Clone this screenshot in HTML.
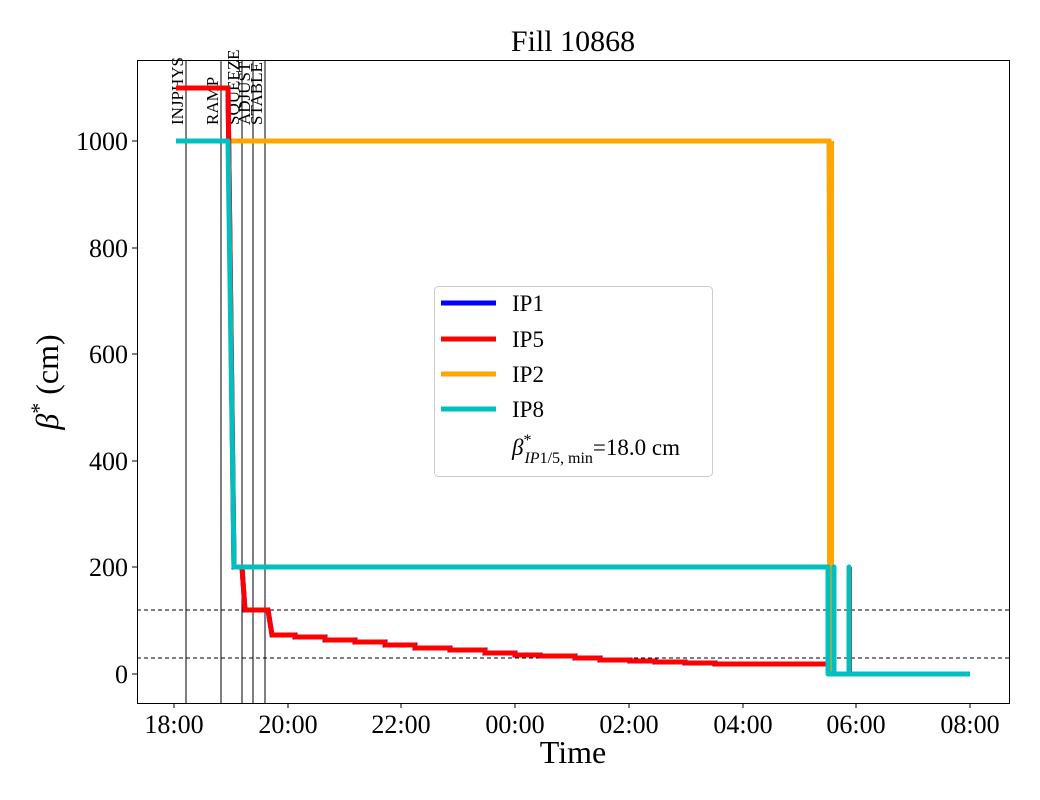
<!DOCTYPE html>
<html><head><meta charset="utf-8"><style>body{margin:0;background:#fff}svg{display:block}</style></head><body>
<svg width="1040" height="800" xmlns="http://www.w3.org/2000/svg" font-family="Liberation Serif, serif">
<rect width="1040" height="800" fill="#fff"/>
<text x="573" y="51" font-size="30" text-anchor="middle">Fill 10868</text>
<g stroke="#000" stroke-width="1">
<line x1="186" y1="60" x2="186" y2="703"/><line x1="221" y1="60" x2="221" y2="703"/><line x1="242" y1="60" x2="242" y2="703"/><line x1="253" y1="60" x2="253" y2="703"/><line x1="265" y1="60" x2="265" y2="703"/>
<line x1="137" y1="610" x2="1010" y2="610" stroke-dasharray="4,3"/><line x1="137" y1="658" x2="1010" y2="658" stroke-dasharray="4,3"/>
</g>
<g font-size="17" fill="#000">
<text transform="translate(183,125) rotate(-90)">INJPHYS</text>
<text transform="translate(218,125) rotate(-90)">RAMP</text>
<text transform="translate(239,125) rotate(-90)">SQUEEZE</text>
<text transform="translate(250,125) rotate(-90)">ADJUST</text>
<text transform="translate(262,125) rotate(-90)">STABLE</text>
</g>
<polyline fill="none" stroke="#FFA500" stroke-width="5" points="228,141 829,141 831,674"/>
<rect x="827" y="141" width="7" height="533" fill="#FFA500"/>
<polyline fill="none" stroke="#0000ff" stroke-width="5" points="176,88 228,88 234,567 242,567 245,610 268,610 272,635 295,635 295,637 325,637 325,640 355,640 355,642 385,642 385,645 415,645 415,648 450,648 450,650 485,650 485,653 515,653 515,655 540,655 540,656 575,656 575,658 600,658 600,660 630,660 630,661 655,661 655,662 685,662 685,663 715,663 715,664 826,664"/>
<polyline fill="none" stroke="#ff0000" stroke-width="5" stroke-linejoin="round" points="176,88 228,88 234,567 242,567 245,610 268,610 272,635 295,635 295,637 325,637 325,640 355,640 355,642 385,642 385,645 415,645 415,648 450,648 450,650 485,650 485,653 515,653 515,655 540,655 540,656 575,656 575,658 600,658 600,660 630,660 630,661 655,661 655,662 685,662 685,663 715,663 715,664 826,664"/>
<polyline fill="none" stroke="#ff0000" stroke-width="2" points="851,567 851,674"/>
<polyline fill="none" stroke="#00BFBF" stroke-width="5" stroke-linejoin="round" points="176,141 228,141 234,567 828,567 828,674 834,674 834,567 834,674 849,674 849,567 849,674 970,674"/>
<rect x="137.5" y="60.5" width="872" height="643" fill="none" stroke="#000"/>
<g stroke="#000"><line x1="132" y1="674" x2="137" y2="674"/><line x1="132" y1="567" x2="137" y2="567"/><line x1="132" y1="461" x2="137" y2="461"/><line x1="132" y1="354" x2="137" y2="354"/><line x1="132" y1="248" x2="137" y2="248"/><line x1="132" y1="141" x2="137" y2="141"/>
<line x1="174" y1="703" x2="174" y2="708"/><line x1="288" y1="703" x2="288" y2="708"/><line x1="401" y1="703" x2="401" y2="708"/><line x1="515" y1="703" x2="515" y2="708"/><line x1="629" y1="703" x2="629" y2="708"/><line x1="743" y1="703" x2="743" y2="708"/><line x1="856" y1="703" x2="856" y2="708"/><line x1="970" y1="703" x2="970" y2="708"/></g>
<g font-size="26" text-anchor="end"><text x="128" y="683">0</text><text x="128" y="576">200</text><text x="128" y="470">400</text><text x="128" y="363">600</text><text x="128" y="257">800</text><text x="128" y="150">1000</text></g>
<g font-size="26" text-anchor="middle"><text x="174" y="733">18:00</text><text x="288" y="733">20:00</text><text x="401" y="733">22:00</text><text x="515" y="733">00:00</text><text x="629" y="733">02:00</text><text x="743" y="733">04:00</text><text x="856" y="733">06:00</text><text x="970" y="733">08:00</text></g>
<text x="573" y="763" font-size="32" text-anchor="middle">Time</text>
<text transform="translate(58,382) rotate(-90)" font-size="32" text-anchor="middle"><tspan font-style="italic">β</tspan><tspan font-size="22" dy="-12">*</tspan><tspan dy="12"> (cm)</tspan></text>
<rect x="434.5" y="286.5" width="278" height="190" rx="4" fill="#fff" stroke="#ccc"/>
<line x1="441" y1="303" x2="496" y2="303" stroke="#0000ff" stroke-width="5"/>
<line x1="441" y1="339" x2="496" y2="339" stroke="#ff0000" stroke-width="5"/>
<line x1="441" y1="374" x2="496" y2="374" stroke="#FFA500" stroke-width="5"/>
<line x1="441" y1="409" x2="496" y2="409" stroke="#00BFBF" stroke-width="5"/>
<g font-size="23"><text x="512" y="311">IP1</text><text x="512" y="347">IP5</text><text x="512" y="382">IP2</text><text x="512" y="417">IP8</text>
<text x="512" y="455"><tspan font-style="italic">β</tspan><tspan font-size="16" dy="-10">*</tspan><tspan font-size="16" dy="18" dx="-7" font-style="italic">IP</tspan><tspan font-size="16">1/5, min</tspan><tspan dy="-8">=18.0 cm</tspan></text></g>
</svg>
</body></html>
